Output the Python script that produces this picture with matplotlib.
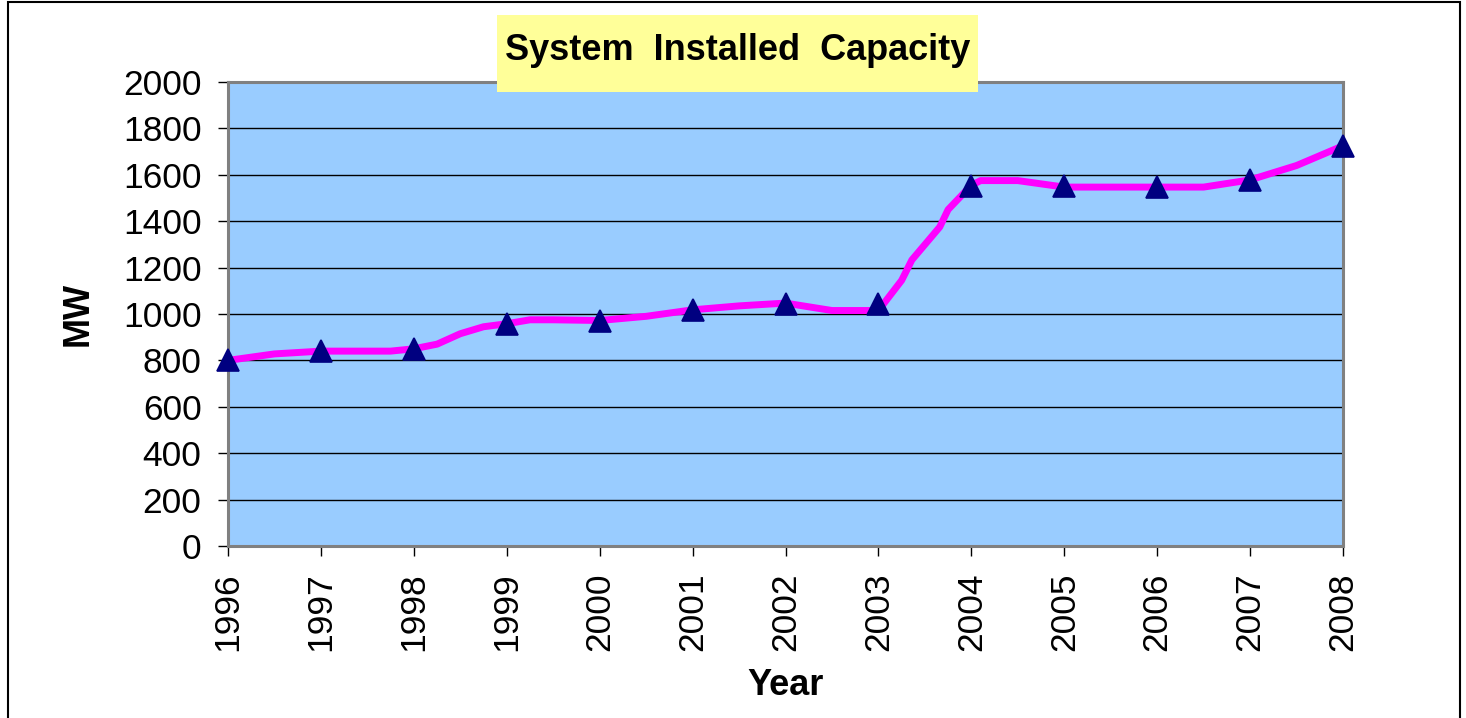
import matplotlib
matplotlib.use("Agg")
import matplotlib.pyplot as plt
from matplotlib.patches import Rectangle

plt.rcParams['font.family'] = ['Liberation Sans', 'DejaVu Sans']

# Data
years = [1996, 1997, 1998, 1999, 2000, 2001, 2002, 2003, 2004, 2005, 2006, 2007, 2008]
capacity_mw = [800, 840, 850, 957, 970, 1017, 1045, 1042, 1550, 1550, 1547, 1578, 1725]

# detailed trace of the magenta line
line_x = [1996.0, 1996.5, 1997.0, 1997.5, 1997.75, 1998.0, 1998.25, 1998.5, 1998.75,
          1999.0, 1999.25, 1999.5, 2000.0, 2000.5, 2001.0, 2001.5, 2002.0, 2002.5,
          2003.0, 2003.25, 2003.36, 2003.66, 2003.75, 2004.0, 2004.1, 2004.5, 2005.0,
          2005.5, 2006.0, 2006.5, 2007.0, 2007.5, 2008.0]
line_y = [800, 828, 840, 840, 840, 850, 870, 915, 945,
          958, 975, 975, 972, 990, 1018, 1035, 1047, 1015,
          1015, 1145, 1233, 1375, 1450, 1555, 1575, 1575, 1547,
          1547, 1547, 1547, 1578, 1640, 1725]

yticks = [0, 200, 400, 600, 800, 1000, 1200, 1400, 1600, 1800, 2000]
title = "System  Installed  Capacity"

W, H = 1466, 718
fig = plt.figure(figsize=(W / 100, H / 100), dpi=100)
fig.patch.set_facecolor('white')

ax = fig.add_axes([228 / W, 1 - 546 / H, (1343 - 228) / W, (546 - 82) / H])
ax.set_facecolor('#99CCFF')

ax.plot(line_x, line_y, color='#FF00FF', linewidth=5.0, zorder=3, solid_joinstyle='round',
        clip_on=False)
ax.plot(years, capacity_mw, linestyle='none', marker='^', markersize=16,
        markerfacecolor='#000080', markeredgecolor='#000080', markeredgewidth=1.2,
        zorder=4, clip_on=False)

ax.set_xlim(1996, 2008)
ax.set_ylim(0, 2000)
ax.set_yticks(yticks)
ax.set_xticks(years)
ax.set_xticklabels([str(y) for y in years], rotation=90)
ax.yaxis.grid(True, color='black', linewidth=1.0)
ax.set_axisbelow(True)

for s in ax.spines.values():
    s.set_color('#808080')
    s.set_linewidth(2.2)

ax.tick_params(axis='both', direction='out', length=7, width=1.0, color='black',
               labelsize=25.5)
ax.tick_params(axis='y', pad=12)
ax.tick_params(axis='x', pad=12)

ax.set_xlabel('Year', fontsize=26, fontweight='bold', labelpad=12)
ax.set_ylabel('MW', fontsize=26, fontweight='bold', labelpad=20)

# outer border
fig.patches.append(Rectangle((8 / W, -0.05), (1460 - 8) / W, 1.05 - 2 / H,
                             transform=fig.transFigure, fill=False,
                             edgecolor='black', linewidth=1.5, zorder=10))
# title box
fig.patches.append(Rectangle((497 / W, 1 - 92 / H), (978 - 497) / W, (92 - 15) / H,
                             transform=fig.transFigure, facecolor='#FFFF99',
                             edgecolor='none', zorder=10))
fig.text((497 + 978) / 2 / W, 1 - 51 / H, title, ha='center', va='center',
         fontsize=26, fontweight='bold', zorder=11)

fig.savefig('out.png', dpi=100)
